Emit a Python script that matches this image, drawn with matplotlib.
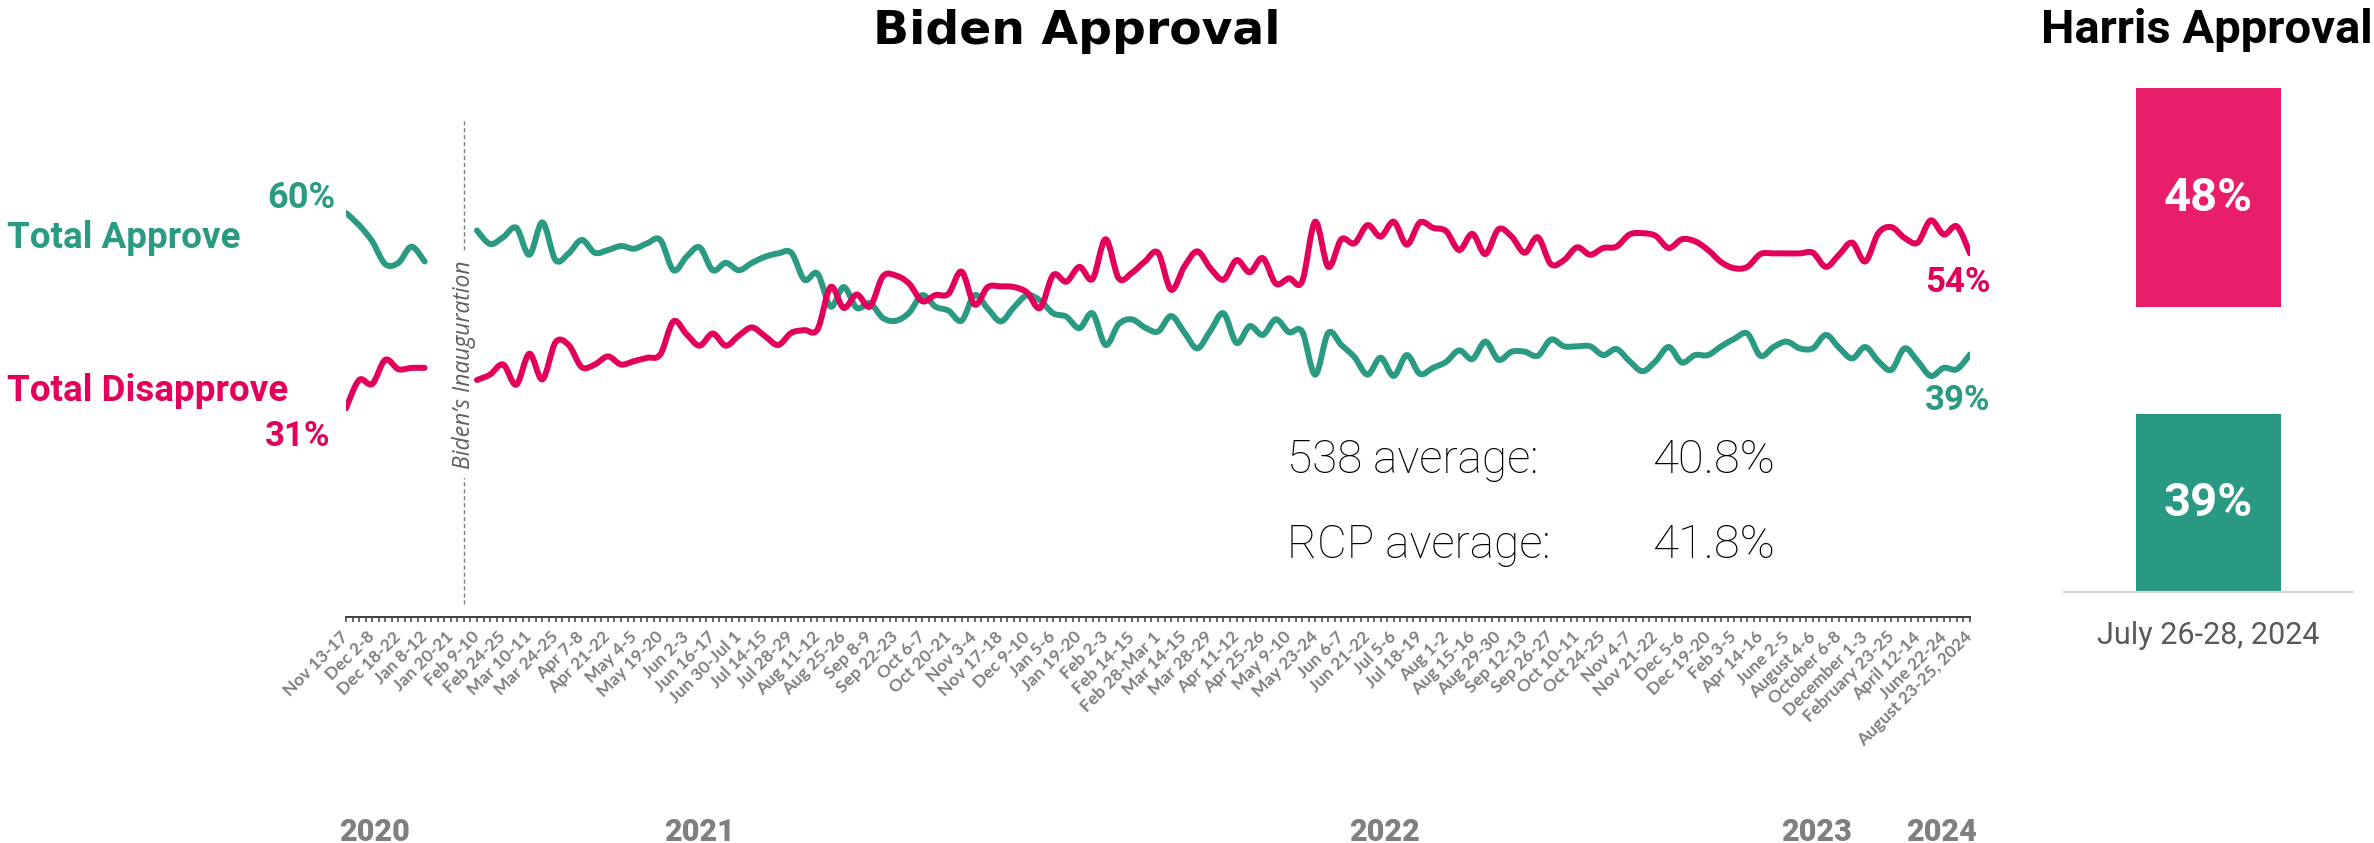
import numpy as np
import matplotlib
matplotlib.use("Agg")
import matplotlib.pyplot as plt
from matplotlib.path import Path
from matplotlib.patches import PathPatch

# ---------------- data ----------------
date_labels = [
    "Nov 13-17", "Dec 2-8", "Dec 18-22", "Jan 8-12", "Jan 20-21", "Feb 9-10",
    "Feb 24-25", "Mar 10-11", "Mar 24-25", "Apr 7-8", "Apr 21-22", "May 4-5",
    "May 19-20", "Jun 2-3", "Jun 16-17", "Jun 30-Jul 1", "Jul 14-15",
    "Jul 28-29", "Aug 11-12", "Aug 25-26", "Sep 8-9", "Sep 22-23", "Oct 6-7",
    "Oct 20-21", "Nov 3-4", "Nov 17-18", "Dec 9-10", "Jan 5-6", "Jan 19-20",
    "Feb 2-3", "Feb 14-15", "Feb 28-Mar 1", "Mar 14-15", "Mar 28-29",
    "Apr 11-12", "Apr 25-26", "May 9-10", "May 23-24", "Jun 6-7", "Jun 21-22",
    "Jul 5-6", "Jul 18-19", "Aug 1-2", "Aug 15-16", "Aug 29-30", "Sep 12-13",
    "Sep 26-27", "Oct 10-11", "Oct 24-25", "Nov 4-7", "Nov 21-22", "Dec 5-6",
    "Dec 19-20", "Feb 3-5", "Apr 14-16", "June 2-5", "August 4-6",
    "October 6-8", "December 1-3", "February 23-25", "April 12-14",
    "June 22-24", "August 23-25, 2024",
]

# Pre-inauguration polls (categories 0-6)
pre_cats = np.arange(0, 7)
pre_approve = [60, 58.2, 55.8, 52.4, 52.6, 55.0, 52.8]
pre_disapprove = [31, 35.2, 34.6, 38.2, 36.8, 37.0, 37.0]

# Biden presidency polls (categories 10-124)
main_cats = np.arange(10, 125)
approve = [
    57.4, 55.4, 56.4, 57.8, 53.8, 58.6, 53.0, 54.0, 56.0, 54.1,
    54.5, 55.1, 54.7, 55.5, 56.0, 51.5, 53.5, 54.9, 51.5, 52.6,
    51.5, 52.6, 53.5, 54.0, 54.1, 50.1, 51.0, 46.1, 49.0, 45.9,
    46.6, 44.4, 44.0, 45.2, 47.8, 46.1, 45.5, 44.0, 47.8, 45.8,
    43.9, 46.0, 47.8, 47.0, 45.1, 44.6, 42.9, 45.1, 40.4, 43.5,
    44.2, 43.0, 42.4, 44.7, 42.3, 39.9, 42.5, 45.1, 40.7, 43.2,
    41.9, 44.2, 42.3, 42.4, 36.0, 42.2, 40.4, 38.6, 36.0, 38.5,
    35.8, 38.9, 36.1, 37.0, 37.9, 39.6, 38.3, 40.9, 38.2, 39.4,
    39.4, 38.8, 41.2, 40.2, 40.2, 40.2, 38.9, 39.8, 38.0, 36.5,
    38.0, 40.1, 37.8, 38.9, 38.9, 40.2, 41.3, 42.1, 38.8, 40.1,
    40.9, 39.9, 39.9, 41.9, 40.0, 38.4, 40.1, 38.0, 36.7, 39.9,
    38.0, 35.8, 37.0, 36.8, 39,
]
disapprove = [
    35.2, 36.0, 37.5, 34.5, 39.1, 35.3, 40.8, 40.4, 37.1, 37.5,
    38.7, 37.5, 38.0, 38.5, 39.0, 43.9, 42.0, 40.3, 42.1, 40.3,
    41.8, 43.0, 41.7, 40.4, 42.2, 42.6, 42.7, 49.0, 45.9, 47.9,
    46.1, 50.6, 50.7, 49.5, 46.9, 47.8, 48.0, 51.3, 46.4, 49.0,
    49.1, 49.0, 48.2, 45.9, 50.8, 49.8, 52.0, 50.2, 56.1, 50.3,
    51.1, 52.8, 54.1, 48.6, 52.0, 54.3, 51.8, 50.1, 53.0, 51.2,
    53.3, 49.5, 50.3, 49.8, 58.7, 52.0, 56.1, 55.5, 58.2, 56.5,
    58.7, 55.3, 58.6, 57.8, 57.3, 54.5, 56.9, 53.9, 57.6, 56.5,
    54.1, 56.4, 52.4, 53.0, 54.9, 53.8, 54.8, 55.0, 56.8, 57.0,
    56.6, 54.8, 56.1, 55.8, 54.5, 52.7, 51.8, 52.0, 53.9, 54.0,
    54.0, 54.0, 54.1, 52.0, 53.8, 55.6, 52.8, 57.0, 57.9, 56.3,
    55.6, 58.9, 56.8, 58.0, 54,
]

years = ["2020", "2021", "2022", "2023", "2024"]

harris_date = "July 26-28, 2024"
harris_approve = 39
harris_disapprove = 48

averages = ["538 average:", "RCP average:"]
average_values = [40.8, 41.8]

# ---------------- style ----------------
GREEN = "#2B9A82"
RED = "#E3005A"
BAR_GREEN = "#2A9983"
BAR_RED = "#E91E6A"
GREY = "#7F7F7F"
W, H = 2374, 843

plt.rcParams["font.family"] = ["Roboto", "DejaVu Sans"]


def fx(px):
    return px / W


def fy(py):
    return 1 - py / H


def smooth_path(xs, ys, tension=6.0):
    """Catmull-Rom style smoothing expressed as cubic Bezier segments."""
    pts = np.column_stack([xs, ys]).astype(float)
    n = len(pts)
    verts = [pts[0]]
    codes = [Path.MOVETO]
    for k in range(n - 1):
        p0 = pts[k - 1] if k > 0 else pts[k]
        p1 = pts[k]
        p2 = pts[k + 1]
        p3 = pts[k + 2] if k + 2 < n else pts[k + 1]
        c1 = p1 + (p2 - p0) / tension
        c2 = p2 - (p3 - p1) / tension
        verts += [c1, c2, p2]
        codes += [Path.CURVE4] * 3
    return Path(verts, codes)


fig = plt.figure(figsize=(W / 100, H / 100), dpi=100)

# ---------------- main line chart ----------------
ax = fig.add_axes([fx(346), fy(617), fx(1970 - 346), (617 - 112) / H])
ax.set_xlim(0, 124)
ax.set_ylim(0, 75)
for s in ("top", "right", "left"):
    ax.spines[s].set_visible(False)
ax.spines["bottom"].set_color("#3F3F3F")
ax.spines["bottom"].set_linewidth(1.4)
ax.set_yticks([])

ax.set_xticks(np.arange(0, 125, 2))
ax.set_xticks(np.arange(0, 124.5, 0.5), minor=True)
ax.set_xticklabels(date_labels, rotation=45, ha="right", va="center",
                   rotation_mode="anchor", fontsize=12.5, color=GREY,
                   fontweight="bold", family=["Lato", "DejaVu Sans"])
ax.tick_params(axis="x", which="both", direction="out", length=3.5,
               width=1.1, color="#3F3F3F", pad=9)

for cats, vals, col in [
    (pre_cats, pre_approve, GREEN), (pre_cats, pre_disapprove, RED),
    (main_cats, approve, GREEN), (main_cats, disapprove, RED),
]:
    ax.add_patch(PathPatch(smooth_path(cats, vals), fill=False, edgecolor=col,
                           lw=4.3, capstyle="round", joinstyle="round",
                           zorder=3))

# inauguration marker
ax.plot([9, 9], [2, 74], color=GREY, lw=1, linestyle=(0, (3, 2)), zorder=1)
ax.text(9, 37.5, "Biden\u2019s Inauguration", rotation=90, ha="center",
        va="center", fontsize=16.5, style="italic", color="#5F5F5F",
        family=["Open Sans", "DejaVu Sans"], zorder=2,
        bbox=dict(boxstyle="square,pad=0.4", fc="white", ec="none"))

# end-point value labels
pct_kw = dict(textcoords="offset points", fontweight="bold", va="center")
ax.annotate(f"{pre_approve[0]:.0f}%", (pre_cats[0], pre_approve[0]),
            xytext=(-8, 11), ha="right", color=GREEN, fontsize=26, **pct_kw)
ax.annotate(f"{pre_disapprove[0]:.0f}%", (pre_cats[0], pre_disapprove[0]),
            xytext=(-11, -20), ha="right", color=RED, fontsize=25, **pct_kw)
ax.annotate(f"{disapprove[-1]:.0f}%", (main_cats[-1], disapprove[-1]),
            xytext=(15, -21), ha="right", color=RED, fontsize=25, **pct_kw)
ax.annotate(f"{approve[-1]:.0f}%", (main_cats[-1], approve[-1]),
            xytext=(15, -33), ha="right", color=GREEN, fontsize=25, **pct_kw)

# series names
fig.text(fx(7), fy(238), "Total Approve", color=GREEN, fontsize=26.5,
         fontweight="bold", ha="left", va="center")
fig.text(fx(7), fy(391), "Total Disapprove", color=RED, fontsize=26.5,
         fontweight="bold", ha="left", va="center")

# averages box
for k, (name, val) in enumerate(zip(averages, average_values)):
    y = 460 + 85 * k
    fig.text(fx(1287), fy(y), name, fontsize=33, fontweight="light",
             color="#000000", ha="left", va="center")
    fig.text(fx(1652), fy(y), f"{val:.1f}%", fontsize=34, fontweight="light",
             color="#000000", ha="left", va="center")

# year markers
year_pos = [2.2, 27.0, 79.3, 112.3, 121.8]
for yr, c in zip(years, year_pos):
    ax.text(c, -0.425, yr, transform=ax.get_xaxis_transform(), ha="center",
            va="center", fontsize=22, fontweight="heavy", color=GREY)

fig.text(fx(1077), fy(31), "Biden Approval", fontsize=34, fontweight="bold",
         ha="center", va="center", color="black",
         family=["DejaVu Sans"])

# ---------------- Harris panel ----------------
stack_gap = 23.4
ax2 = fig.add_axes([fx(2064), fy(592), fx(2353 - 2064), 525 / H])
ax2.set_xlim(-0.5, 0.5)
ax2.set_ylim(0, 115)
for s in ("top", "right", "left"):
    ax2.spines[s].set_visible(False)
ax2.spines["bottom"].set_color("#D9D9D9")
ax2.spines["bottom"].set_linewidth(1.6)
ax2.set_xticks([])
ax2.set_yticks([])
ax2.bar(0, harris_approve, width=0.502, color=BAR_GREEN)
ax2.bar(0, harris_disapprove, width=0.502, bottom=harris_approve + stack_gap,
        color=BAR_RED)
ax2.text(0, harris_approve / 2, f"{harris_approve}%", ha="center",
         va="center", color="white", fontsize=34, fontweight="bold")
ax2.text(0, harris_approve + stack_gap + harris_disapprove / 2,
         f"{harris_disapprove}%", ha="center", va="center", color="white",
         fontsize=34, fontweight="bold")

fig.text(fx(2208), fy(636), harris_date, fontsize=22, color="#595959",
         ha="center", va="center")
fig.text(fx(2207), fy(30), "Harris Approval", fontsize=34, fontweight="bold",
         ha="center", va="center", color="black")

fig.savefig("out.png", dpi=100)
